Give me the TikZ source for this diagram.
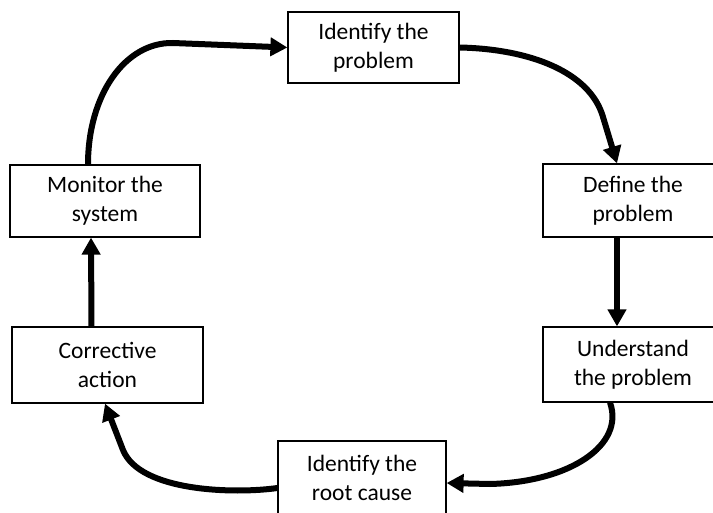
\documentclass[tikz,border=0pt]{standalone}
\usepackage{fontspec}
\setmainfont{Carlito}
\usetikzlibrary{arrows.meta}

\tikzset{
  stage/.style={draw=black, line width=1.2pt, rectangle, inner sep=0pt,
    align=center, font=\fontsize{23.5}{29}\selectfont,
    execute at begin node={\rule{0pt}{23pt}}},
  flow/.style={line width=6pt, -{Triangle[length=17pt,width=18pt]}}
}

\begin{document}
\begin{tikzpicture}[x=1pt,y=-1pt]
\useasboundingbox (0,0) rectangle (713,513);

% the six stages of the cycle
\node[stage, minimum width=171pt, minimum height=71pt] (idp) at (373.5,47.5) {Identify the\\problem};
\node[stage, minimum width=180pt, minimum height=73pt] (def) at (633,200.5) {Define the\\problem};
\node[stage, minimum width=180pt, minimum height=75pt] (und) at (633,364.5) {Understand\\the problem};
\node[stage, minimum width=168pt, minimum height=73pt] (root) at (362,477.5) {Identify the\\root cause};
\node[stage, minimum width=191pt, minimum height=76pt] (cor) at (107.5,365) {Corrective\\action};
\node[stage, minimum width=190pt, minimum height=72pt] (mon) at (105,201) {Monitor the\\system};

% connectors, clockwise
\draw[flow] ([xshift=-17pt]mon.north) .. controls (88,95) and (125,42) .. (173,43) -- (idp.west);
\draw[flow] (idp.east) .. controls (530,49) and (590,72) .. (603,117) -- ([xshift=-16pt]def.north);
\draw[flow] ([xshift=-16pt]def.south) -- ([xshift=-16pt]und.north);
\draw[flow] ([xshift=-23pt]und.south) .. controls (625,445) and (570,482) .. (490,484) -- ([yshift=-5.5pt]root.east);
\draw[flow] ([yshift=-10.5pt]root.west) .. controls (235,494) and (140,492) .. (123,450) -- ([xshift=-2.5pt]cor.south);
\draw[flow] ([xshift=-16pt]cor.north) -- ([xshift=-14pt]mon.south);
\end{tikzpicture}
\end{document}
